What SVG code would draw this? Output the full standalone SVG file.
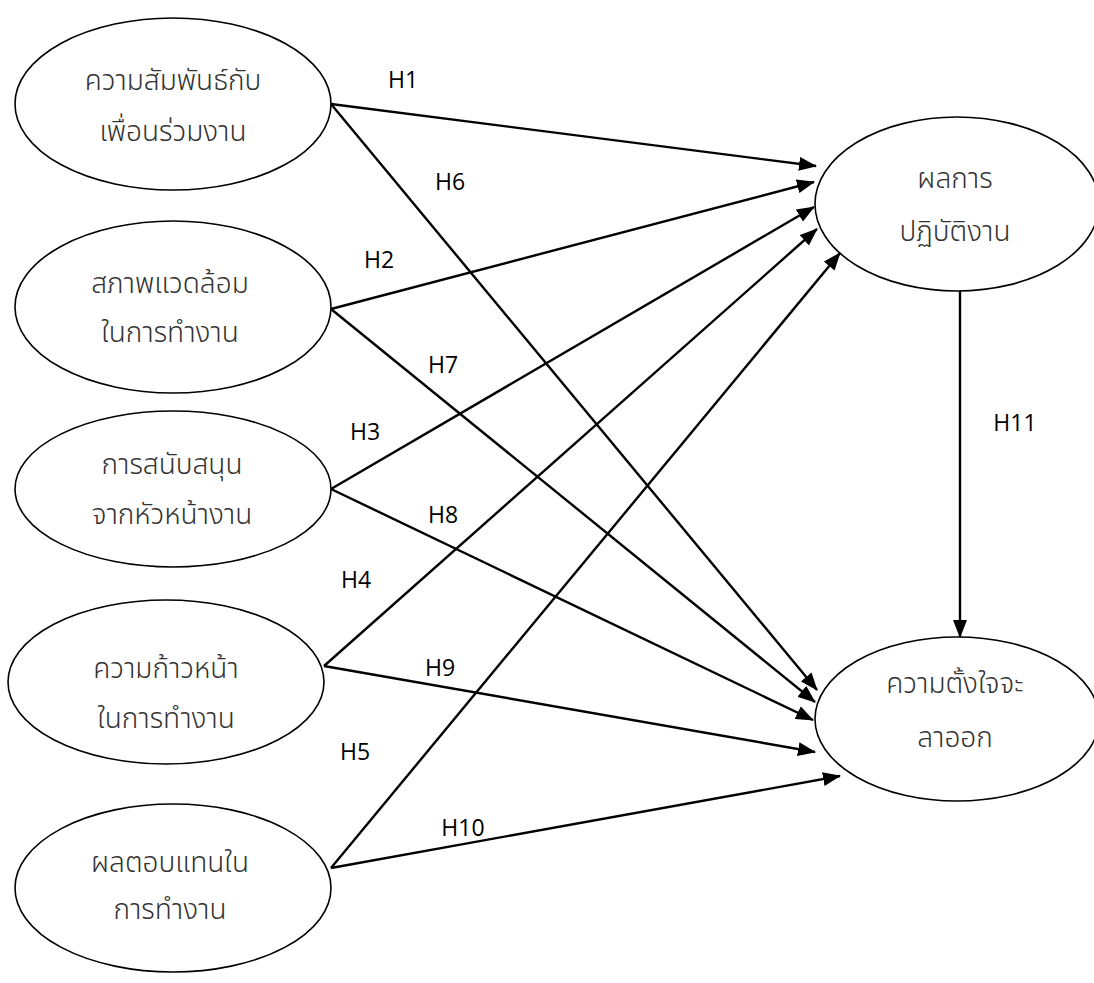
<svg xmlns="http://www.w3.org/2000/svg" width="1094" height="983" viewBox="0 0 1094 983">
<defs>
<marker id="arr" viewBox="0 0 18 14" refX="17" refY="7" markerWidth="18" markerHeight="14" markerUnits="userSpaceOnUse" orient="auto">
<path d="M0,0 L18,7 L0,14 z" fill="#000"/>
</marker>
<style>
.node ellipse{fill:#fff;stroke:#000;stroke-width:1.6}
.th{font-family:"Noto Sans Thai","Leelawadee UI","Tahoma","Noto Sans",sans-serif;font-size:28px;font-weight:300;fill:#333;text-anchor:middle}
.lbl{font-family:"Open Sans","Liberation Sans",sans-serif;font-size:23px;fill:#000;text-anchor:middle}
.con line{stroke:#000;stroke-width:2.4;marker-end:url(#arr)}
</style>
</defs>
<rect width="1094" height="983" fill="#fff"/>
<g id="n1" class="node"><ellipse cx="173" cy="104" rx="158" ry="86"/><text class="th" x="173" y="90">ความสัมพันธ์กับ</text><text class="th" x="173" y="141">เพื่อนร่วมงาน</text></g>
<g id="n2" class="node"><ellipse cx="173" cy="307" rx="158" ry="86"/><text class="th" x="170" y="293">สภาพแวดล้อม</text><text class="th" x="170" y="342">ในการทำงาน</text></g>
<g id="n3" class="node"><ellipse cx="173" cy="489" rx="158" ry="78"/><text class="th" x="172" y="474">การสนับสนุน</text><text class="th" x="172" y="524">จากหัวหน้างาน</text></g>
<g id="n4" class="node"><ellipse cx="166" cy="682" rx="158" ry="82"/><text class="th" x="166" y="678">ความก้าวหน้า</text><text class="th" x="166" y="728">ในการทำงาน</text></g>
<g id="n5" class="node"><ellipse cx="173" cy="888" rx="158" ry="84"/><text class="th" x="170" y="872">ผลตอบแทนใน</text><text class="th" x="170" y="919">การทำงาน</text></g>
<g id="n6" class="node"><ellipse cx="957" cy="204" rx="142" ry="87"/><text class="th" x="955" y="188">ผลการ</text><text class="th" x="955" y="241">ปฏิบัติงาน</text></g>
<g id="n7" class="node"><ellipse cx="957" cy="719" rx="142" ry="82"/><text class="th" x="955" y="693">ความตั้งใจจะ</text><text class="th" x="955" y="747">ลาออก</text></g>
<g id="connectors" class="con">
<line x1="331" y1="104" x2="816" y2="166"/>
<line x1="331" y1="104" x2="817" y2="690"/>
<line x1="331" y1="309" x2="814" y2="182"/>
<line x1="331" y1="309" x2="815" y2="702"/>
<line x1="331" y1="489" x2="814" y2="207"/>
<line x1="331" y1="489" x2="813" y2="720"/>
<line x1="324" y1="666" x2="817" y2="229"/>
<line x1="324" y1="666" x2="815" y2="752"/>
<line x1="331" y1="868" x2="840" y2="253"/>
<line x1="331" y1="868" x2="840" y2="776"/>
<line x1="960" y1="291" x2="960" y2="637"/>
</g>
<g id="labels">
<text class="lbl" x="403" y="88">H1</text>
<text class="lbl" x="450" y="190">H6</text>
<text class="lbl" x="379" y="268">H2</text>
<text class="lbl" x="443" y="373">H7</text>
<text class="lbl" x="365" y="440">H3</text>
<text class="lbl" x="443" y="523">H8</text>
<text class="lbl" x="356" y="588">H4</text>
<text class="lbl" x="440" y="676">H9</text>
<text class="lbl" x="355" y="760">H5</text>
<text class="lbl" x="463" y="836">H10</text>
<text class="lbl" x="1015" y="431">H11</text>
</g>
</svg>
